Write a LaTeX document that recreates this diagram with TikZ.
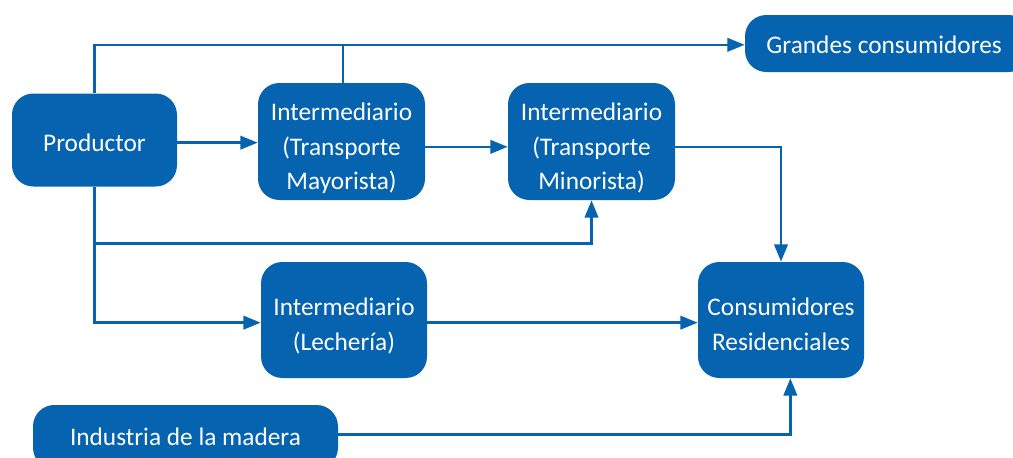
\documentclass[tikz,border=0pt]{standalone}
\usepackage{fontspec}
\setmainfont{Carlito}
\usetikzlibrary{arrows.meta}
\definecolor{mblue}{RGB}{5,99,175}
\newcommand{\lowtxt}[2]{\raisebox{-#1}[\height][\depth]{\begin{tabular}{@{}c@{}}#2\end{tabular}}}
\tikzset{
  box/.style={draw=none, fill=mblue, rounded corners=16pt, text=white, align=center,
    font=\fontsize{19}{25.8}\selectfont, inner sep=0pt},
  arr/.style={draw=mblue, line width=2pt, -{Triangle[length=13pt,width=10pt]}},
  ln/.style={draw=mblue, line width=2pt},
}
\begin{document}
\begin{tikzpicture}[x=0.75pt,y=-0.75pt]
\useasboundingbox (0,0) rectangle (1013,457);
\node[box, minimum width=165*0.75pt, minimum height=93*0.75pt] (prod) at (94.5,140) {\lowtxt{3.5pt}{Productor}};
\node[box, minimum width=167*0.75pt, minimum height=117*0.75pt] (may) at (341.5,141.5) {\lowtxt{5pt}{Intermediario\\(Transporte\\Mayorista)}};
\node[box, minimum width=167*0.75pt, minimum height=117*0.75pt] (min) at (591.5,141.5) {\lowtxt{5pt}{Intermediario\\(Transporte\\Minorista)}};
\node[box, minimum width=285*0.75pt, minimum height=57*0.75pt] (grand) at (887.5,43.5) {\kern-5pt\lowtxt{2.5pt}{Grandes consumidores}};
\node[box, minimum width=166*0.75pt, minimum height=116*0.75pt] (lech) at (344,320) {\lowtxt{4.5pt}{Intermediario\\(Lechería)}};
\node[box, minimum width=166*0.75pt, minimum height=116*0.75pt] (cons) at (781,320) {\lowtxt{4.5pt}{Consumidores\\Residenciales}};
\node[box, minimum width=305*0.75pt, minimum height=64*0.75pt] (ind) at (185.5,437) {Industria de la madera};

% top line
\draw[arr] (prod.north) |- ([yshift=-1pt]grand.west);
\draw[ln] ([xshift=1pt]may.north) -- ([xshift=1pt]may.north |- grand.west);
% horizontal flows
\draw[arr] ([yshift=-2pt]prod.east) -- ([yshift=-2pt]prod.east -| may.west);
\draw[arr] ([yshift=-4pt]may.east) -- ([yshift=-4pt]min.west);
\draw[arr] ([yshift=-4pt]min.east) -| (cons.north);
% productor down
\draw[arr] (prod.south) -- ++(0,57) -| (min.south);
\draw[arr] (prod.south) |- ([yshift=-2pt]lech.west);
\draw[arr] ([yshift=-2pt]lech.east) -- ([yshift=-2pt]cons.west);
\draw[arr] ([yshift=2pt]ind.east) -| ([xshift=7pt]cons.south);
\end{tikzpicture}
\end{document}
